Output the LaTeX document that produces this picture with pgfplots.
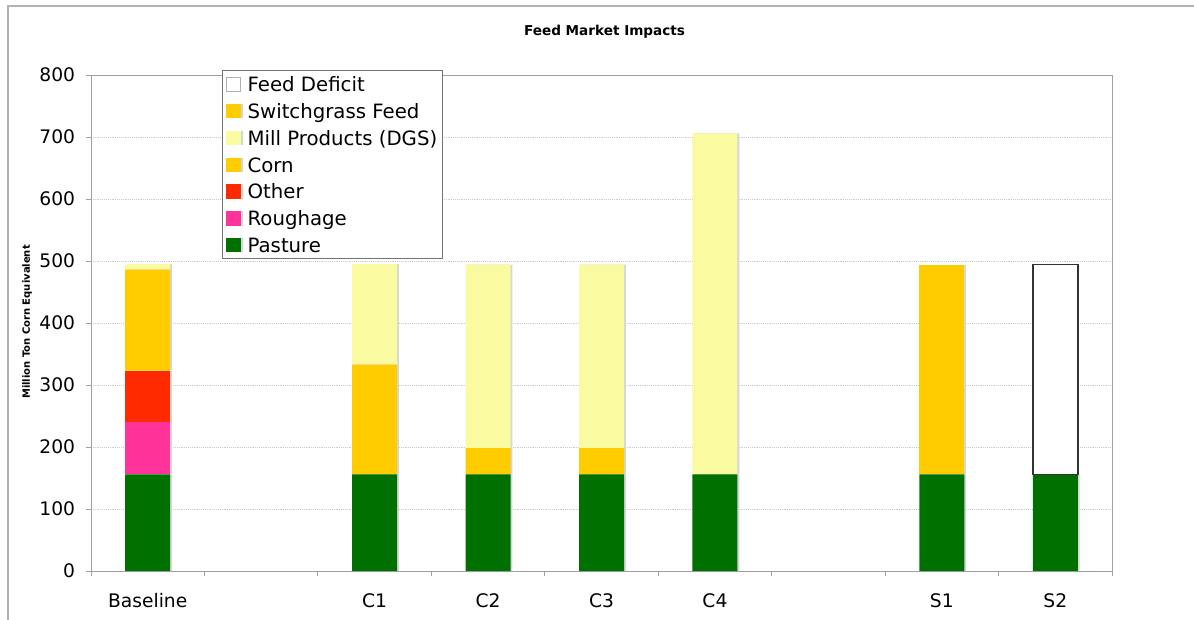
\documentclass[border=0pt]{standalone}
\usepackage{pgfplots}
\pgfplotsset{compat=1.18}
\usepackage{fontspec}
\setmainfont{DejaVu Sans}
\usetikzlibrary{shadows}
\definecolor{pasture}{RGB}{0,112,0}
\definecolor{roughage}{RGB}{255,51,153}
\definecolor{other}{RGB}{255,42,0}
\definecolor{corn}{RGB}{255,204,0}
\definecolor{mill}{RGB}{250,250,160}
\definecolor{switch}{RGB}{255,204,0}
\definecolor{axisgray}{RGB}{160,160,160}

% x: 0 Baseline, 1 (empty), 2 C1, 3 C2, 4 C3, 5 C4, 6 (empty), 7 S1, 8 S2
\pgfplotstableread{
x pasture roughage other corn mill switch
0 156 85 82 163 9 0
1 0 0 0 0 0 0
2 156 0 0 177 162 0
3 156 0 0 42 296 0
4 156 0 0 42 296 0
5 156 0 0 0 550 0
6 0 0 0 0 0 0
7 156 0 0 0 0 338
8 156 0 0 0 0 0
}\feeddata

\pgfplotstableread{
x base deficit
8 156 338
}\deficitdata

\pgfplotsset{
  commonaxis/.style={
    scale only axis,
    width=765.75pt, height=372pt,
    xmin=-0.5, xmax=8.5,
    ymin=0, ymax=800,
    bar width=33.75pt,
  },
  barshadow/.style={general shadow={fill=black!16, shadow xshift=1.4pt, shadow yshift=0pt}},
}

\begin{document}
\begin{tikzpicture}
\useasboundingbox (-68.25pt,-36pt) rectangle (827.25pt,428.25pt);
\draw[axisgray!80, line width=0.8pt] (-62.25pt,-40pt) -- (-62.25pt,423.75pt) -- (830pt,423.75pt);
\begin{axis}[
  commonaxis,
  ybar stacked,
  axis line style={axisgray, line width=0.7pt},
  xtick={0,2,3,4,5,7,8},
  xticklabels={Baseline,C1,C2,C3,C4,S1,S2},
  major x tick style={draw=none},
  minor xtick={-0.5,0.5,...,8.5},
  minor tick length=4pt,
  minor x tick style={axisgray, line width=0.7pt},
  tick align=outside,
  ytick={0,100,...,800},
  major tick length=3.75pt,
  major y tick style={axisgray, line width=0.7pt},
  xtick pos=bottom, ytick pos=left,
  ymajorgrids,
  major grid style={densely dotted, black!20, line width=0.6pt},
  tick label style={font=\fontsize{14}{16}\selectfont},
  /pgf/number format/assume math mode=true,
  yticklabel style={anchor=east, inner sep=0pt, xshift=-8pt},
  xticklabel style={anchor=north, inner sep=0pt, yshift=-13pt},
  title={\textbf{Feed Market Impacts}},
  title style={at={(0.503,1)}, anchor=center, yshift=26.25pt, font=\fontsize{10.2}{12}\selectfont},
  ylabel={Million Ton Corn Equivalent},
  every axis y label/.style={at={(axis description cs:0,0.502)}, rotate=90, anchor=center, yshift=48pt, font=\bfseries\fontsize{7.5}{9}\selectfont},
  reverse legend,
  legend cell align=left,
  legend style={at={(0.1283,1.0101)}, anchor=north west, draw=black!55, line width=0.7pt,
    font=\fontsize{14.8}{16}\selectfont, inner xsep=3pt, inner ysep=2.1pt, row sep=3.9pt,
    nodes={inner sep=1pt, text height=12.8pt, text depth=1.4pt}},
  legend image code/.code={\fill[#1] (0pt,-5.7pt) rectangle (11pt,5.1pt); \path (14.5pt,0pt);},
]
\addplot[fill=pasture, draw=none, barshadow] table[x=x, y=pasture] {\feeddata};
\addlegendentry{Pasture}
\addplot[fill=roughage, draw=none, barshadow] table[x=x, y=roughage] {\feeddata};
\addlegendentry{Roughage}
\addplot[fill=other, draw=none, barshadow] table[x=x, y=other] {\feeddata};
\addlegendentry{Other}
\addplot[fill=corn, draw=none, barshadow] table[x=x, y=corn] {\feeddata};
\addlegendentry{Corn}
\addplot[fill=mill, draw=none, barshadow] table[x=x, y=mill] {\feeddata};
\addlegendentry{Mill Products (DGS)}
\addplot[fill=switch, draw=none, barshadow] table[x=x, y=switch] {\feeddata};
\addlegendentry{Switchgrass Feed}
\addlegendimage{legend image code/.code={\draw[black!30, fill=white, line width=0.5pt] (0.25pt,-5.45pt) rectangle (10.75pt,4.85pt); \path (14.5pt,0pt);}}
\addlegendentry{Feed Deficit}
\end{axis}
\begin{axis}[
  commonaxis,
  ybar stacked,
  hide axis,
]
\addplot[fill=none, draw=none, forget plot] table[x=x, y=base] {\deficitdata};
\addplot[fill=white, draw=black!80, line width=1.1pt, forget plot] table[x=x, y=deficit] {\deficitdata};
\end{axis}
\end{tikzpicture}
\end{document}
